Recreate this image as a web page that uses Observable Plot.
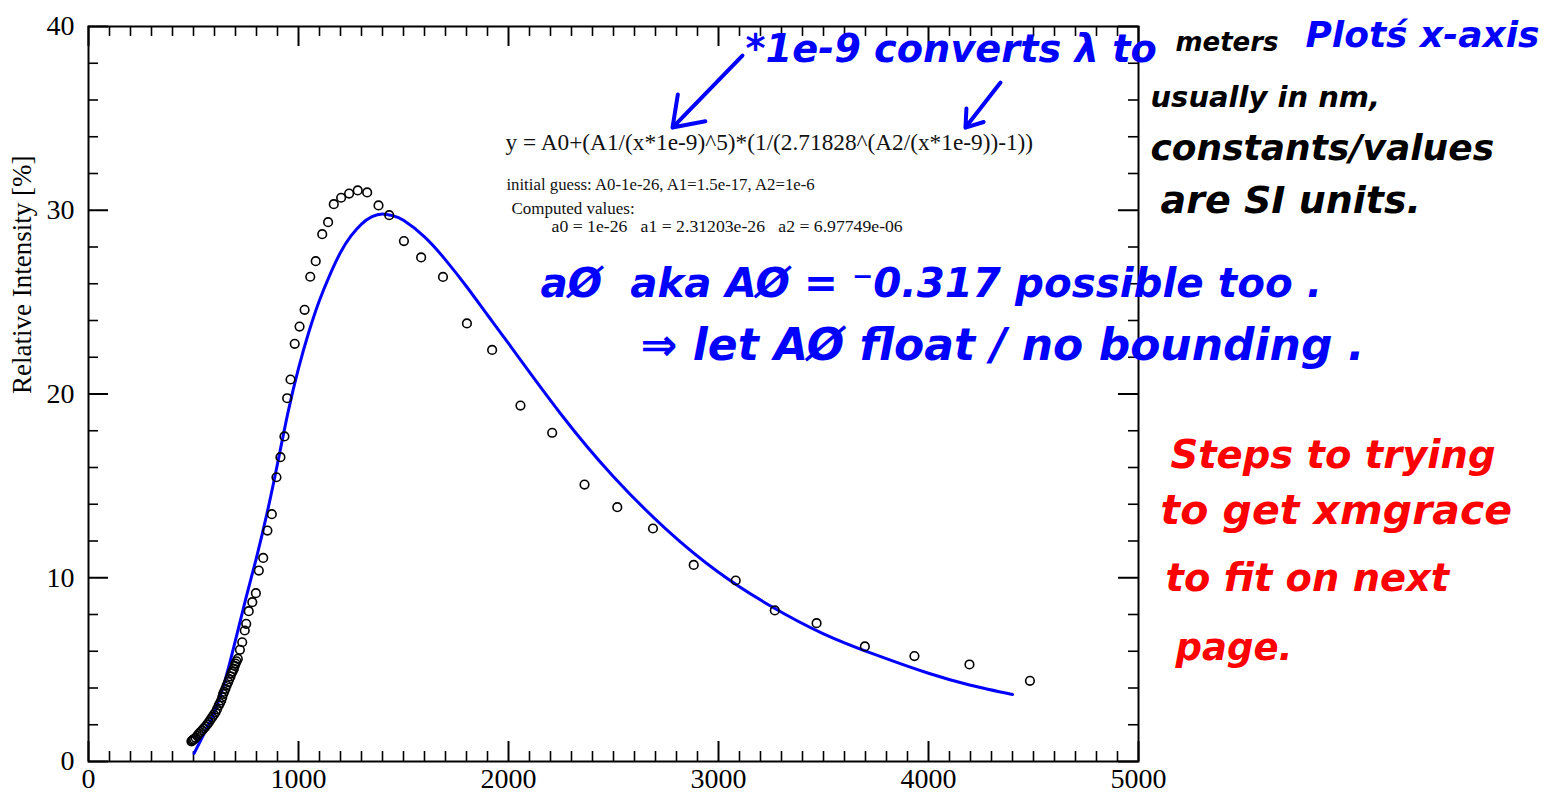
<!DOCTYPE html>
<html><head><meta charset="utf-8">
<script src="https://cdn.jsdelivr.net/npm/d3@7"></script>
<script src="https://cdn.jsdelivr.net/npm/@observablehq/plot@0.6"></script>
<style>html,body{margin:0;padding:0;background:#fff;overflow:hidden}</style>
</head><body><div id="chart"></div>
<script>
// ---------- data ----------
const wavelengthNm = [490,494,498,503,510,518,525,533,541,549,557,565,573,581,589,597,605,612,620,626,632,637,641,646,652,658,665,670,676,681,686,692,696,700,705,711,721,732,744,751,763,780,797,811,832,852,873,895,914,933,946,962,982,1005,1029,1056,1082,1113,1141,1168,1203,1241,1282,1327,1381,1432,1502,1584,1688,1802,1922,2057,2208,2362,2518,2688,2882,3082,3268,3467,3697,3933,4195,4483];
const intensityPct = [1.10,1.14,1.18,1.22,1.29,1.40,1.51,1.60,1.69,1.80,1.90,2.02,2.14,2.28,2.41,2.55,2.68,2.85,3.05,3.18,3.32,3.50,3.68,3.80,3.96,4.15,4.32,4.48,4.63,4.80,4.90,5.04,5.20,5.33,5.45,5.59,6.08,6.49,7.13,7.49,8.18,8.67,9.16,10.39,11.08,12.57,13.46,15.47,16.56,17.69,19.77,20.79,22.73,23.67,24.58,26.38,27.23,28.70,29.35,30.33,30.68,30.91,31.08,30.97,30.26,29.73,28.32,27.43,26.37,23.84,22.40,19.37,17.89,15.07,13.84,12.68,10.70,9.85,8.22,7.53,6.26,5.74,5.28,4.39];
const fitNm  = [503,550,600,650,700,750,800,850,900,950,1000,1050,1100,1150,1200,1250,1300,1350,1400,1450,1500,1600,1700,1800,1900,2000,2250,2500,2750,3000,3250,3500,3750,4000,4200,4400];
const fitPct = [0.45,1.5,2.7,4.4,6.6,8.9,11.1,13.5,16.2,19.0,21.4,23.4,25.1,26.5,27.7,28.6,29.25,29.65,29.8,29.7,29.45,28.55,27.3,25.85,24.3,22.75,18.9,15.5,12.65,10.3,8.45,6.95,5.8,4.8,4.15,3.65];
const xTickValues = [0,1000,2000,3000,4000,5000];
const yTickValues = [0,10,20,30,40];
const xTickLabels = ["0","1000","2000","3000","4000","5000"];
const yTickLabels = ["0","10","20","30","40"];
const yLabel = "Relative Intensity [%]";
const formulaLines = [
  "y = A0+(A1/(x*1e-9)^5)*(1/(2.71828^(A2/(x*1e-9))-1))",
  "initial guess: A0-1e-26, A1=1.5e-17, A2=1e-6",
  "Computed values:",
  "a0 = 1e-26   a1 = 2.31203e-26   a2 = 6.97749e-06"
];
const noteTexts = [
  "*1e-9 converts λ to", "meters", "Plotś x-axis",
  "usually in nm,", "constants/values", "are SI units.",
  "aØ  aka AØ = ⁻0.317 possible too .", "⇒ let AØ float / no bounding .",
  "Steps to trying", "to get xmgrace", "to fit on next", "page."
];

// ---------- layout ----------
const W = 1550, H = 798;
const mL = 88, mR = 412, mT = 26, mB = 37;
const pxX = (W - mL - mR) / 5000;   // px per x unit
const pxY = (H - mT - mB) / 40;     // px per y unit
const major = 20, minor = 10;
const xMinor = d3.range(100, 5000, 100).filter(v => v % 1000 !== 0);
const yMinor = d3.range(2, 40, 2).filter(v => v % 10 !== 0);

const points = wavelengthNm.map((x, i) => ({x, y: intensityPct[i]}));
const fit = fitNm.map((x, i) => ({x, y: fitPct[i]}));
const xt = xTickValues.map((v, i) => ({v, t: xTickLabels[i]}));
const yt = yTickValues.map((v, i) => ({v, t: yTickLabels[i]}));

const formulaLayout = [
  {x: 1986, y: 33.69, size: 23.3},
  {x: 1990, y: 31.40, size: 16.8},
  {x: 2014, y: 30.10, size: 17},
  {x: 2205, y: 29.12, size: 17.7}
].map((d, i) => ({...d, text: formulaLines[i]}));

const B = "#0000ff", K = "#000000", R = "#ff0000";
const notes = [
  {x: 3129, y: 38.75, size: 38.3, c: B},
  {x: 5176, y: 39.10, size: 26, c: K},
  {x: 5795, y: 39.50, size: 36, c: B},
  {x: 5057, y: 36.10, size: 29, c: K},
  {x: 5057, y: 33.36, size: 36, c: K},
  {x: 5105, y: 30.50, size: 38, c: K},
  {x: 2152, y: 26.00, size: 40.4, c: B},
  {x: 2629, y: 22.64, size: 44, c: B},
  {x: 5152, y: 16.65, size: 38.5, c: R},
  {x: 5105, y: 13.66, size: 41, c: R},
  {x: 5129, y: 9.96,  size: 38.4, c: R},
  {x: 5176, y: 6.15,  size: 37, c: R}
].map((d, i) => ({...d, text: noteTexts[i]}));

const arrows = [
  {x1: 3114, y1: 38.42, x2: 2781, y2: 34.5},
  {x1: 4343, y1: 36.95, x2: 4176, y2: 34.5}
];

const serif = "'Liberation Serif', 'Times New Roman', serif";
const hand = "'DejaVu Sans', sans-serif";

const marks = [
  Plot.frame({stroke: "black", strokeWidth: 2}),
  // ticks (inward, all four sides)
  Plot.ruleX(xTickValues, {x: d => d, y1: 0, y2: major / pxY, stroke: "black", strokeWidth: 2}),
  Plot.ruleX(xTickValues, {x: d => d, y1: 40 - major / pxY, y2: 40, stroke: "black", strokeWidth: 2}),
  Plot.ruleX(xMinor, {x: d => d, y1: 0, y2: minor / pxY, stroke: "black", strokeWidth: 1.6}),
  Plot.ruleX(xMinor, {x: d => d, y1: 40 - minor / pxY, y2: 40, stroke: "black", strokeWidth: 1.6}),
  Plot.ruleY(yTickValues, {y: d => d, x1: 0, x2: major / pxX, stroke: "black", strokeWidth: 2}),
  Plot.ruleY(yTickValues, {y: d => d, x1: 5000 - major / pxX, x2: 5000, stroke: "black", strokeWidth: 2}),
  Plot.ruleY(yMinor, {y: d => d, x1: 0, x2: minor / pxX, stroke: "black", strokeWidth: 1.6}),
  Plot.ruleY(yMinor, {y: d => d, x1: 5000 - minor / pxX, x2: 5000, stroke: "black", strokeWidth: 1.6}),
  // tick labels
  Plot.text(xt, {x: "v", y: 0, text: "t", dy: 18, lineAnchor: "middle", fontSize: 28, fontFamily: serif, fill: "black"}),
  Plot.text(yt, {x: 0, y: "v", text: "t", dx: -14, textAnchor: "end", lineAnchor: "middle", fontSize: 28, fontFamily: serif, fill: "black"}),
  Plot.text([yLabel], {frameAnchor: "left", dx: -66, rotate: -90, fontSize: 27, fontFamily: serif, fill: "black"}),
  // data
  Plot.line(fit, {x: "x", y: "y", stroke: B, strokeWidth: 3, curve: "natural"}),
  Plot.dot(points, {x: "x", y: "y", r: 4.3, stroke: "black", strokeWidth: 1.6, fill: "none"}),
  // formula annotation
  Plot.text(formulaLayout, {x: "x", y: "y", text: "text", fontSize: "size", textAnchor: "start", lineAnchor: "middle", fontFamily: serif, fill: "#111"}),
  // handwritten notes
  Plot.text(notes, {x: "x", y: "y", text: "text", fontSize: d => d.size, fill: "c", textAnchor: "start", lineAnchor: "middle", fontFamily: hand, fontStyle: "italic", fontWeight: "bold"}),
  Plot.arrow(arrows, {x1: "x1", y1: "y1", x2: "x2", y2: "y2", stroke: B, strokeWidth: 4, headLength: 18, headAngle: 70})
];

const chart = Plot.plot({
  width: W, height: H,
  marginLeft: mL, marginRight: mR, marginTop: mT, marginBottom: mB,
  x: {domain: [0, 5000], axis: null},
  y: {domain: [0, 40], axis: null},
  style: {background: "white", overflow: "visible"},
  marks
});
document.getElementById("chart").appendChild(chart);
</script>
</body></html>
